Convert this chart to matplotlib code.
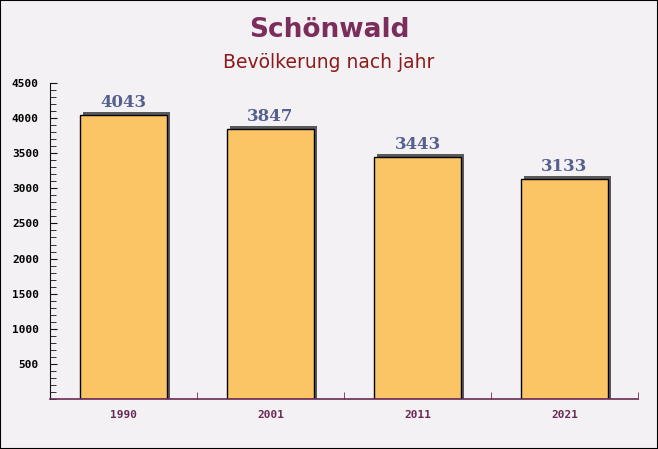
import matplotlib
matplotlib.use("Agg")
import matplotlib.pyplot as plt
from matplotlib.patches import Rectangle
from matplotlib.ticker import MultipleLocator, FixedLocator

years = ["1990", "2001", "2011", "2021"]
population = [4043, 3847, 3443, 3133]
title = "Schönwald"
subtitle = "Bevölkerung nach jahr"

W, H = 658, 449
fig = plt.figure(figsize=(W / 100, H / 100), dpi=100)
fig.patch.set_facecolor("#f4f1f4")
fig.add_artist(Rectangle((0, 0), 1, 1, transform=fig.transFigure, fill=False,
                         edgecolor="black", linewidth=1.5))

ax = fig.add_axes([50 / W, 1 - 399 / H, 588 / W, (399 - 83) / H])
ax.set_facecolor("none")
ax.set_xlim(0, len(years))
ax.set_ylim(0, 4500)

bw = 0.59
for i, v in enumerate(population):
    x0 = i + 0.5 - bw / 2
    # shadow
    ax.add_patch(Rectangle((x0 + 0.02, 0), bw, v + 40, facecolor="#5a5a5a",
                           edgecolor="none", zorder=1))
    ax.add_patch(Rectangle((x0, 0), bw, v, facecolor="#fbc465",
                           edgecolor="black", linewidth=1, zorder=2))
    ax.text(i + 0.5, v + 60, f"{v}", ha="center", va="bottom",
            fontsize=12, fontweight="bold", family="DejaVu Serif",
            color="#56608f", zorder=3)

ax.xaxis.set_major_locator(FixedLocator([i + 0.5 for i in range(len(years))]))
ax.set_xticklabels(years)
ax.xaxis.set_minor_locator(FixedLocator([1, 2, 3, 4]))
ax.tick_params(axis="x", which="major", length=0, pad=8, labelsize=8,
               labelcolor="#6b2a55")
ax.tick_params(axis="x", which="minor", length=5, direction="in", color="#6b2a55")
for lab in ax.get_xticklabels():
    lab.set_family("DejaVu Sans Mono")
    lab.set_fontweight("bold")

ax.yaxis.set_major_locator(FixedLocator(list(range(500, 4501, 500))))
ax.yaxis.set_minor_locator(MultipleLocator(100))
ax.tick_params(axis="y", which="major", length=5, direction="in", pad=8,
               labelsize=8, color="#111111")
ax.tick_params(axis="y", which="minor", length=4, direction="in", color="#111111")
for lab in ax.get_yticklabels():
    lab.set_family("DejaVu Sans Mono")
    lab.set_fontweight("bold")

for s in ["top", "right"]:
    ax.spines[s].set_visible(False)
ax.spines["left"].set_color("#111111")
ax.spines["bottom"].set_color("#6b2a55")
ax.spines["bottom"].set_linewidth(1.2)

fig.text(0.5, 1 - 30 / H, title, ha="center", va="center", fontsize=19,
         fontweight="bold", color="#7b2d5b")
fig.text(0.5, 1 - 63 / H, subtitle, ha="center", va="center", fontsize=13.5,
         color="#8b1a1a")

fig.savefig("out.png", dpi=100, facecolor=fig.get_facecolor())
